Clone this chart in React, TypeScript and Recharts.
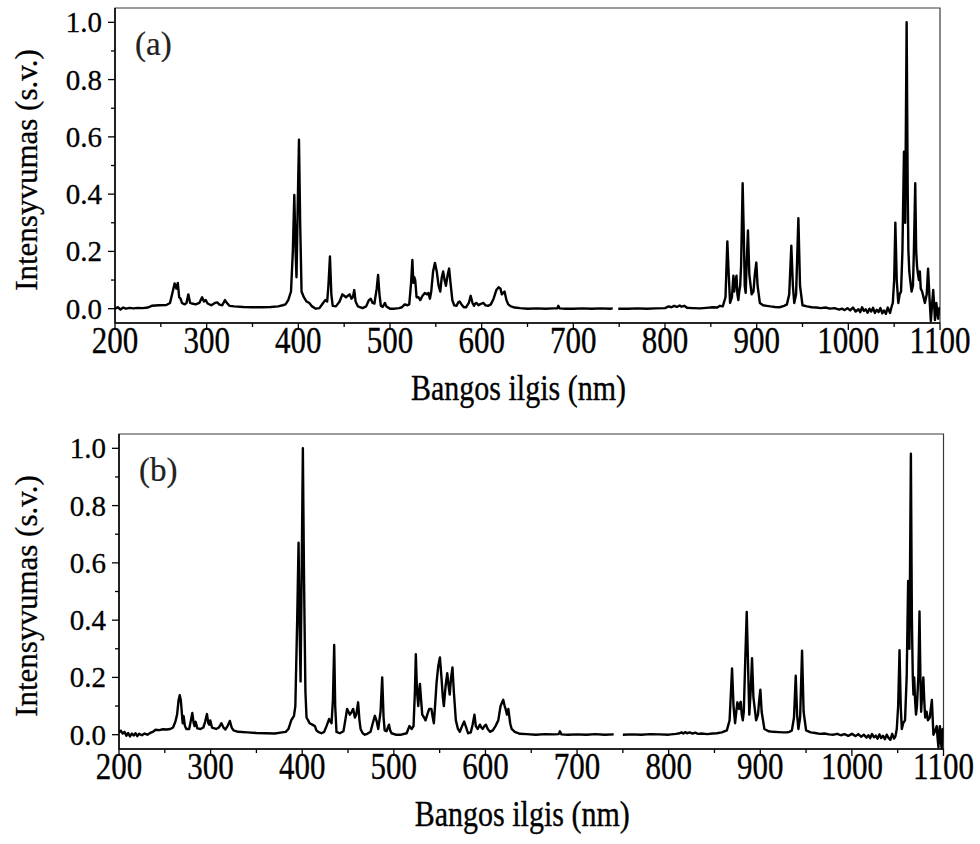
import { LineChart, Line, XAxis, YAxis, ReferenceArea } from "recharts";

const FONT = '"Liberation Serif", "Times New Roman", serif';

const xTicks = [200, 250, 300, 350, 400, 450, 500, 550, 600, 650, 700, 750, 800, 850, 900, 950, 1000, 1050, 1100];
const yTicks = [0, 0.1, 0.2, 0.3, 0.4, 0.5, 0.6, 0.7, 0.8, 0.9, 1.0];
const panelLabels = ["(a)", "(b)"];
const xTitle = "Bangos ilgis (nm)";
const yTitle = "Intensyvumas (s.v.)";

// [wavelength nm, intensity]; null marks the gap near 745 nm
const spectrumA: [number, number | null][] = [
  [200, 0.0], [203, 0.005], [206, -0.003], [209, 0.004], [212, 0.0], [216, 0.003], [220, 0.001],
  [225, 0.003], [230, 0.002], [236, 0.004], [240, 0.01], [248, 0.012], [256, 0.013], [260, 0.02],
  [263, 0.06], [265, 0.088], [267, 0.07], [268.5, 0.09], [270, 0.04], [271.5, 0.035], [273, 0.02],
  [276, 0.015], [278, 0.02], [280, 0.05], [282, 0.02], [284, 0.018], [288, 0.015], [292, 0.02],
  [295, 0.04], [297, 0.025], [299, 0.03], [301, 0.018], [305, 0.012], [309, 0.02], [311.5, 0.022],
  [314, 0.014], [317, 0.012], [320, 0.03], [322, 0.02], [325, 0.01], [330, 0.008], [340, 0.006],
  [350, 0.005], [360, 0.005], [370, 0.006], [378, 0.008], [383, 0.012], [386, 0.015], [389, 0.03],
  [392, 0.06], [394, 0.2], [395.6, 0.397], [397, 0.2], [398, 0.11], [399.3, 0.35], [400.7, 0.59],
  [402, 0.3], [403.5, 0.06], [406, 0.04], [409, 0.025], [412, 0.02], [415, 0.008], [419, 0.0],
  [423, 0.002], [427, 0.02], [429.5, 0.03], [431.5, 0.025], [432.8, 0.08], [434.5, 0.182], [436, 0.05],
  [437.5, 0.01], [441, 0.008], [445, 0.025], [448, 0.05], [450, 0.045], [452, 0.04], [454, 0.045],
  [456, 0.05], [458, 0.035], [459.5, 0.04], [461, 0.065], [462.5, 0.025], [465, 0.008], [470, 0.002],
  [474, 0.008], [477, 0.03], [479, 0.035], [481, 0.02], [483, 0.018], [485.5, 0.07], [487, 0.118],
  [488.5, 0.05], [490, 0.01], [492, 0.006], [494.5, 0.02], [496, 0.008], [500, 0.0], [505, 0.0],
  [510, 0.002], [513, 0.005], [516, 0.015], [519, 0.012], [521, 0.015], [523, 0.09], [524.4, 0.17],
  [525.5, 0.09], [526.5, 0.11], [527.5, 0.1], [529, 0.04], [531, 0.04], [533, 0.03], [535.5, 0.045],
  [538, 0.055], [540.5, 0.05], [542, 0.055], [543.5, 0.035], [545, 0.06], [547, 0.13], [549, 0.16],
  [551, 0.13], [553, 0.08], [554.8, 0.06], [556.5, 0.11], [558, 0.13], [559.5, 0.1], [561, 0.08],
  [563, 0.12], [564.5, 0.14], [566, 0.09], [568, 0.03], [570, 0.012], [572.5, 0.01], [574.5, 0.022],
  [576, 0.025], [578, 0.015], [580.5, 0.005], [583, 0.005], [586, 0.02], [588, 0.045], [590, 0.02],
  [591.6, 0.01], [593, 0.018], [594.5, 0.02], [596.5, 0.012], [598, 0.015], [600, 0.018], [602, 0.02],
  [604, 0.012], [607, 0.01], [610, 0.015], [613, 0.035], [616, 0.065], [618.5, 0.075], [620.5, 0.07],
  [622, 0.05], [623.5, 0.055], [625, 0.06], [627, 0.03], [629, 0.015], [632, 0.008], [636, 0.004],
  [642, 0.002], [650, 0.0], [660, 0.001], [670, 0.0], [678, 0.001], [682.5, 0.001], [683.6, 0.01],
  [685, 0.001], [692, 0.0], [700, 0.0], [710, 0.001], [720, 0.0], [730, 0.001], [740, 0.0],
  [743, 0.001], [744, null], [749, 0.0], [760, 0.0], [770, 0.001], [780, 0.0], [790, 0.001],
  [800, 0.002], [804, 0.008], [807, 0.005], [810, 0.01], [813, 0.006], [816, 0.011], [818, 0.007],
  [821, 0.01], [824, 0.003], [830, 0.002], [838, 0.001], [845, 0.003], [852, 0.005], [857, 0.004],
  [860, 0.01], [863, 0.008], [866, 0.04], [868, 0.235], [869.5, 0.12], [871, 0.02], [873, 0.04],
  [874.6, 0.115], [875.5, 0.06], [877, 0.1], [878, 0.115], [879, 0.05], [880, 0.03], [881, 0.06],
  [882, 0.08], [883, 0.15], [884.7, 0.438], [886, 0.25], [887, 0.08], [888, 0.055], [889, 0.15],
  [890.5, 0.273], [892, 0.12], [894.5, 0.05], [896.5, 0.06], [898, 0.12], [899.6, 0.161], [901, 0.08],
  [903.5, 0.02], [907, 0.012], [911, 0.01], [915, 0.008], [920, 0.006], [925, 0.005], [930, 0.01],
  [933, 0.015], [935.5, 0.05], [937.8, 0.22], [939.5, 0.08], [941, 0.02], [943, 0.05], [945.5, 0.316],
  [947.3, 0.08], [950, 0.012], [955, 0.008], [960, 0.005], [965, 0.004], [970, 0.002], [975, 0.004],
  [980, 0.0], [985, 0.002], [990, -0.003], [993, 0.0], [996, -0.005], [999, 0.002], [1002, -0.006],
  [1005, 0.004], [1008, -0.01], [1011, -0.002], [1013, -0.012], [1015, 0.005], [1017, -0.008],
  [1019, -0.002], [1021, -0.014], [1023, 0.0], [1025, -0.01], [1027, 0.003], [1029, -0.015],
  [1031, -0.004], [1033, -0.012], [1035, 0.002], [1037, -0.016], [1039, -0.006], [1041, -0.018],
  [1043, 0.004], [1045.5, -0.015], [1047, 0.005], [1048.5, 0.02], [1050, 0.1], [1051.3, 0.3],
  [1052.8, 0.1], [1054.5, 0.02], [1056, 0.05], [1057.5, 0.06], [1059, 0.2], [1060.7, 0.548],
  [1062, 0.3], [1063.6, 1.0], [1064.8, 0.4], [1065.5, 0.205], [1066.5, 0.13], [1067.5, 0.1],
  [1069, 0.06], [1070.5, 0.08], [1071.5, 0.2], [1073, 0.438], [1074, 0.2], [1075, 0.147],
  [1076, 0.12], [1077, 0.1], [1078, 0.13], [1079, 0.07], [1080.5, 0.06], [1082, 0.04], [1083.5, 0.02],
  [1085.5, 0.05], [1087, 0.14], [1088.5, 0.04], [1090, -0.044], [1091.5, 0.02], [1092.6, 0.065],
  [1093.5, 0.02], [1094.5, -0.04], [1096, 0.02], [1097, -0.01], [1098, -0.035], [1099, 0.0], [1100, 0.005],
];

// panel (b)
const spectrumB: [number, number | null][] = [
  [200, 0.008], [202, 0.014], [204, 0.004], [206, 0.01], [208, -0.004], [210, 0.006], [212, -0.006],
  [214, 0.004], [216, -0.003], [218, 0.005], [220, -0.005], [222, 0.003], [225, -0.002], [228, 0.004],
  [231, 0.0], [234, 0.006], [237, 0.01], [240, 0.017], [244, 0.016], [248, 0.019], [252, 0.018],
  [256, 0.02], [259, 0.025], [261.5, 0.045], [263.4, 0.07], [265, 0.12], [266.3, 0.138], [267.5, 0.12],
  [269, 0.06], [269.5, 0.04], [270.5, 0.065], [272, 0.03], [273.5, 0.02], [276.6, 0.02], [278.5, 0.05],
  [280, 0.076], [281.5, 0.04], [282.5, 0.03], [283.7, 0.045], [285.5, 0.022], [289, 0.02], [292, 0.025],
  [294, 0.045], [296, 0.072], [297.5, 0.04], [298.5, 0.035], [299.6, 0.05], [301.5, 0.025], [306, 0.02],
  [309, 0.025], [311.8, 0.04], [314, 0.025], [316, 0.018], [318.5, 0.03], [321, 0.048], [323, 0.025],
  [325, 0.015], [330, 0.01], [340, 0.008], [350, 0.006], [360, 0.005], [370, 0.004], [378, 0.008],
  [382, 0.01], [385, 0.02], [388, 0.05], [391, 0.066], [392.5, 0.1], [394.5, 0.4], [396, 0.67],
  [397, 0.4], [398.2, 0.186], [399.5, 0.6], [400.7, 1.0], [401.8, 0.6], [402.5, 0.4], [403.5, 0.15],
  [404.7, 0.06], [406.5, 0.05], [408, 0.04], [411, 0.035], [413.8, 0.03], [415.5, 0.015], [417.4, 0.01],
  [421, 0.005], [424, 0.01], [426.5, 0.03], [429.4, 0.055], [431, 0.045], [432, 0.04], [433.5, 0.12],
  [434.9, 0.313], [436, 0.1], [437.4, 0.01], [441, 0.005], [445, 0.012], [447, 0.05], [449, 0.09],
  [450.5, 0.08], [452, 0.07], [454, 0.08], [455.6, 0.09], [457.5, 0.06], [459, 0.07], [461, 0.113],
  [462.5, 0.05], [463.7, 0.02], [466, 0.005], [468.4, 0.0], [471, 0.003], [474.6, 0.01], [477, 0.04],
  [479.3, 0.066], [481, 0.05], [483, 0.02], [485.5, 0.08], [487.3, 0.2], [488.8, 0.06], [490, 0.015],
  [492, 0.012], [494.7, 0.035], [496, 0.015], [497.5, 0.005], [502, 0.0], [508, 0.0], [514, 0.005],
  [517, 0.03], [519.5, 0.02], [521.5, 0.03], [523, 0.15], [524, 0.281], [525.3, 0.15], [526.7, 0.1],
  [527.8, 0.16], [528.5, 0.177], [529.8, 0.12], [531, 0.07], [533, 0.06], [534.6, 0.05], [536.5, 0.07],
  [538.6, 0.09], [541, 0.09], [542.5, 0.06], [543.7, 0.04], [545, 0.1], [546.6, 0.18], [548.5, 0.24],
  [550.3, 0.27], [552, 0.2], [553.5, 0.13], [554.6, 0.1], [556.5, 0.17], [558.3, 0.215], [559.8, 0.17],
  [561, 0.14], [562.5, 0.2], [564, 0.235], [565.5, 0.15], [567.7, 0.05], [570, 0.02], [572, 0.01],
  [574.5, 0.03], [576.8, 0.046], [579, 0.025], [581, 0.005], [584, 0.008], [586, 0.035], [588, 0.07],
  [589.5, 0.03], [591.5, 0.02], [594, 0.035], [595.5, 0.025], [597, 0.02], [598.8, 0.03], [600.5, 0.035],
  [602.5, 0.02], [605, 0.01], [608, 0.015], [611, 0.03], [614, 0.05], [616.5, 0.1], [619.4, 0.122],
  [621, 0.1], [622, 0.09], [623.5, 0.07], [625, 0.09], [627, 0.04], [628.6, 0.02], [632, 0.01],
  [637.7, 0.003], [645, 0.002], [655, 0.0], [665, 0.002], [675, 0.001], [680, 0.002], [681.3, 0.012],
  [683, 0.001], [690, 0.0], [700, 0.001], [710, 0.0], [720, 0.002], [730, 0.0], [740, 0.001],
  [744, null], [750, 0.0], [760, 0.001], [770, 0.0], [780, 0.002], [790, 0.001], [800, 0.0],
  [808, 0.003], [812, 0.005], [814, 0.008], [816, 0.004], [818, 0.009], [820, 0.005], [823, 0.008],
  [826, 0.004], [829, 0.007], [832, 0.003], [836, 0.004], [842, 0.002], [848, 0.004], [852.5, 0.005],
  [858, 0.008], [863.5, 0.015], [866.5, 0.05], [869.2, 0.231], [870.8, 0.1], [872.5, 0.04], [873.8, 0.08],
  [875, 0.113], [876, 0.095], [876.9, 0.09], [878, 0.11], [878.7, 0.115], [879.8, 0.07], [880.9, 0.05],
  [882, 0.08], [883.5, 0.25], [885.2, 0.429], [886.6, 0.25], [888, 0.07], [889.5, 0.15], [891, 0.267],
  [892.5, 0.13], [895.5, 0.05], [897.5, 0.07], [898.8, 0.12], [900.1, 0.157], [901.5, 0.08], [904.5, 0.02],
  [909, 0.012], [914, 0.01], [920, 0.009], [925, 0.008], [929, 0.008], [932, 0.01], [934.5, 0.015],
  [936.8, 0.06], [938.7, 0.206], [940.2, 0.07], [941.6, 0.02], [943.5, 0.06], [945.6, 0.293], [947.3, 0.08],
  [950, 0.015], [955, 0.008], [960, 0.006], [965, 0.003], [970, 0.004], [975, 0.001], [980, 0.0],
  [984, 0.003], [988, -0.002], [992, 0.002], [996, -0.004], [1000, 0.003], [1004, -0.005], [1007, 0.002],
  [1010, -0.007], [1013, 0.0], [1016, -0.01], [1018, -0.002], [1020, -0.012], [1022, 0.002], [1024, -0.009],
  [1026, -0.003], [1028, -0.014], [1030, 0.001], [1032, -0.012], [1034, -0.004], [1036, -0.016], [1038, 0.0],
  [1040, -0.011], [1042, -0.018], [1044, 0.003], [1046, -0.014], [1047.5, -0.006], [1049, 0.02],
  [1050.5, 0.1], [1052, 0.295], [1053.3, 0.1], [1054.5, 0.02], [1056, 0.04], [1058, 0.05], [1059.8, 0.2],
  [1061.4, 0.537], [1062.8, 0.3], [1064.4, 0.981], [1065.5, 0.4], [1066.5, 0.2], [1067.2, 0.14],
  [1068, 0.2], [1069, 0.12], [1070, 0.07], [1071, 0.1], [1072.5, 0.2], [1073.8, 0.43], [1074.8, 0.2],
  [1075.6, 0.08], [1076.8, 0.15], [1078, 0.2], [1079, 0.12], [1080, 0.06], [1081.5, 0.08], [1083, 0.05],
  [1085, 0.06], [1087.3, 0.121], [1088.3, 0.05], [1089, 0.0], [1090.5, 0.01], [1092.6, 0.03],
  [1093.5, -0.01], [1094.5, -0.044], [1095.3, 0.01], [1096, 0.03], [1097, -0.02], [1098, -0.048],
  [1099, 0.02], [1100, 0.02],
];

const toRows = (s: [number, number | null][]) => s.map(([w, v]) => ({ w, v }));

function XTick({ x, y, payload }: any) {
  const v = payload.value;
  const major = v % 100 === 0;
  return (
    <g>
      <line x1={x} x2={x} y1={y} y2={y + (major ? 7 : 4)} stroke="#000" strokeWidth={1.3} />
      {major && (
        <text
          transform={`translate(${x} ${y + 30}) scale(1 1.2)`}
          textAnchor="middle"
          fontFamily={FONT}
          fontSize={31}
          fill="#000"
          stroke="#000"
          strokeWidth={0.3}
        >
          {v}
        </text>
      )}
    </g>
  );
}

function YTick({ x, y, payload }: any) {
  const v = payload.value;
  const major = Math.round(v * 10) % 2 === 0;
  return (
    <g>
      <line x1={x} x2={x - (major ? 7 : 4)} y1={y} y2={y} stroke="#000" strokeWidth={1.3} />
      {major && (
        <text
          x={x - 13}
          y={y + 10}
          textAnchor="end"
          fontFamily={FONT}
          fontSize={29}
          fill="#000"
          stroke="#000"
          strokeWidth={0.3}
        >
          {v.toFixed(1)}
        </text>
      )}
    </g>
  );
}

function Panel({ spectrum, label, top, axisW, right }: any) {
  const plotLeft = axisW;
  const plotRight = 980 - right;
  const cx = (plotLeft + plotRight) / 2 - 9;
  return (
    <div style={{ position: "absolute", left: 0, top, width: 980, height: 420 }}>
      <LineChart width={980} height={420} data={toRows(spectrum)} margin={{ top: 8, right, bottom: 0, left: 0 }}>
        <ReferenceArea
          x1={200}
          x2={1100}
          y1={-0.05}
          y2={1.05}
          fill="none"
          stroke="#3a3a3a"
          strokeWidth={1.2}
          ifOverflow="visible"
        />
        <XAxis
          dataKey="w"
          type="number"
          domain={[200, 1100]}
          ticks={xTicks}
          interval={0}
          tickSize={0}
          tickMargin={0}
          tickLine={false}
          tick={<XTick />}
          axisLine={{ stroke: "#000", strokeWidth: 1.5 }}
          height={97}
          allowDataOverflow
        />
        <YAxis
          type="number"
          domain={[-0.05, 1.05]}
          ticks={yTicks}
          interval={0}
          tickSize={0}
          tickMargin={0}
          tickLine={false}
          tick={<YTick />}
          axisLine={{ stroke: "#000", strokeWidth: 1.5 }}
          width={axisW}
          allowDataOverflow
        />
        <Line
          type="linear"
          dataKey="v"
          stroke="#000"
          strokeWidth={2.4}
          strokeLinejoin="round"
          dot={false}
          activeDot={false}
          connectNulls={false}
          isAnimationActive={false}
        />
        <text x={plotLeft + 20} y={55} fontFamily={FONT} fontSize={33} fill="#222" stroke="#222" strokeWidth={0.2}>
          {label}
        </text>
        <text
          transform={`translate(${cx} 400) scale(1 1.22)`}
          textAnchor="middle"
          fontFamily={FONT}
          fontSize={30}
          fill="#000"
          stroke="#000"
          strokeWidth={0.3}
        >
          {xTitle}
        </text>
        <text
          transform="translate(37 170) rotate(-90)"
          textAnchor="middle"
          fontFamily={FONT}
          fontSize={31}
          fill="#000"
          stroke="#000"
          strokeWidth={0.3}
        >
          {yTitle}
        </text>
      </LineChart>
    </div>
  );
}

export default function App() {
  return (
    <div style={{ position: "absolute", left: 0, top: 0, width: 980, height: 844, background: "#fff" }}>
      <Panel spectrum={spectrumA} label={panelLabels[0]} top={0} axisW={115} right={40} />
      <Panel spectrum={spectrumB} label={panelLabels[1]} top={426} axisW={119} right={36.5} />
    </div>
  );
}
